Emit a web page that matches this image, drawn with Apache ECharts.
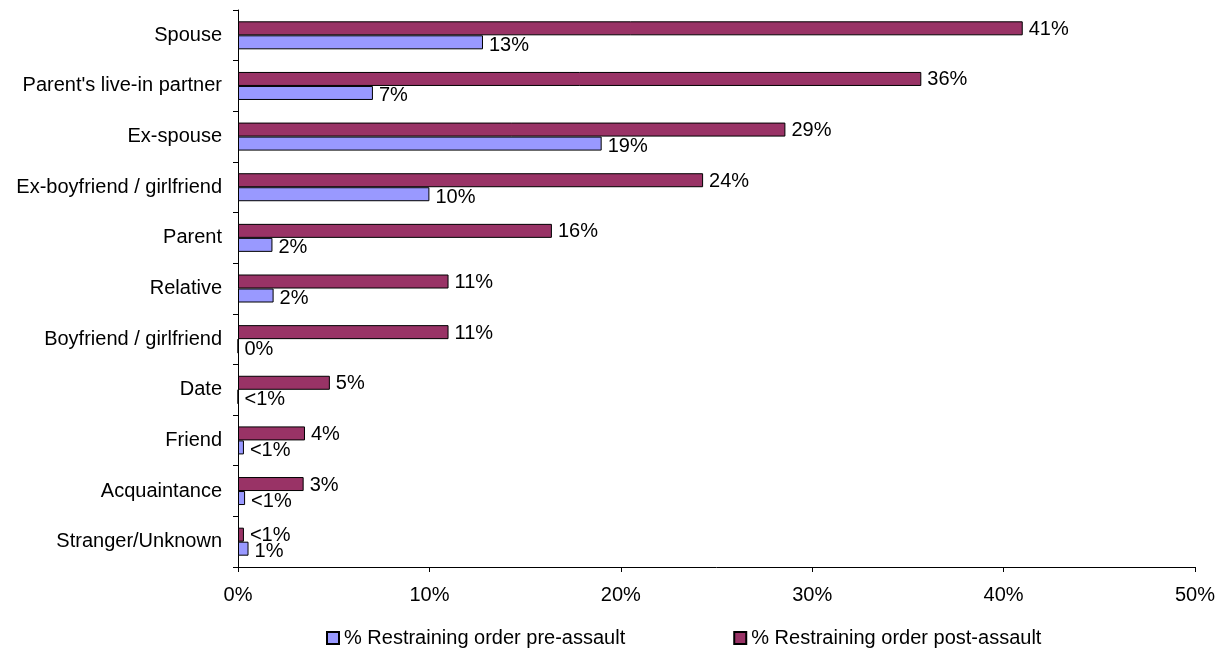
<!DOCTYPE html>
<html><head><meta charset="utf-8">
<script src="https://cdn.jsdelivr.net/npm/echarts@6/dist/echarts.min.js"></script>
<style>html,body{margin:0;padding:0;background:#fff}#c{width:1222px;height:654px}</style>
</head><body><div id="c"></div>
<script>
var categories = ["Spouse","Parent's live-in partner","Ex-spouse","Ex-boyfriend / girlfriend","Parent","Relative","Boyfriend / girlfriend","Date","Friend","Acquaintance","Stranger/Unknown"];
var preValues  = [12.8, 7.05, 19.0, 10.0, 1.8, 1.86, 0, 0, 0.31, 0.37, 0.55];
var postValues = [41.0, 35.7, 28.6, 24.3, 16.4, 11.0, 11.0, 4.8, 3.5, 3.43, 0.31];
var preLabels  = ["13%","7%","19%","10%","2%","2%","0%","<1%","<1%","<1%","1%"];
var postLabels = ["41%","36%","29%","24%","16%","11%","11%","5%","4%","3%","<1%"];
var xTicks = [0,10,20,30,40,50];
var seriesNames = ["% Restraining order pre-assault","% Restraining order post-assault"];

var chart = echarts.init(document.getElementById('c'), null, {renderer:'canvas'});
var font = 'Liberation Sans, Arial, sans-serif';
chart.setOption({
  animation:false,
  textStyle:{fontFamily:font},
  grid:{left:238,right:27,top:10,bottom:87,containLabel:false},
  legend:{
    top:628, left:326, padding:0, itemWidth:12, itemHeight:12, itemGap:108,
    icon:'rect',
    textStyle:{fontSize:20,color:'#000',fontFamily:font},
    data:seriesNames
  },
  xAxis:{
    type:'value', min:xTicks[0], max:xTicks[xTicks.length-1], interval:10,
    axisLine:{show:true,lineStyle:{color:'#000',width:1}},
    axisTick:{show:true,length:5,lineStyle:{color:'#000'}},
    axisLabel:{formatter:'{value}%',fontSize:20,color:'#000',margin:18,fontFamily:font},
    splitLine:{show:false}
  },
  yAxis:{
    type:'category', data:categories, inverse:true,
    axisLine:{show:true,lineStyle:{color:'#000',width:1}},
    axisTick:{show:true,length:5,lineStyle:{color:'#000'}},
    axisLabel:{fontSize:20,color:'#000',margin:16,fontFamily:font}
  },
  series:[
    {name:seriesNames[1], type:'bar', data:postValues, barWidth:14, barGap:'0%',
     itemStyle:{color:'#993366',borderColor:'#000',borderWidth:1},
     label:{show:true,position:'right',distance:6,offset:[0,1],fontSize:20,color:'#000',fontFamily:font,
       formatter:function(p){return postLabels[p.dataIndex];}}},
    {name:seriesNames[0], type:'bar', data:preValues, barWidth:14, barGap:'0%',
     itemStyle:{color:'#9999FF',borderColor:'#000',borderWidth:1},
     label:{show:true,position:'right',distance:6,offset:[0,3],fontSize:20,color:'#000',fontFamily:font,
       formatter:function(p){return preLabels[p.dataIndex];}}}
  ]
});
</script></body></html>
